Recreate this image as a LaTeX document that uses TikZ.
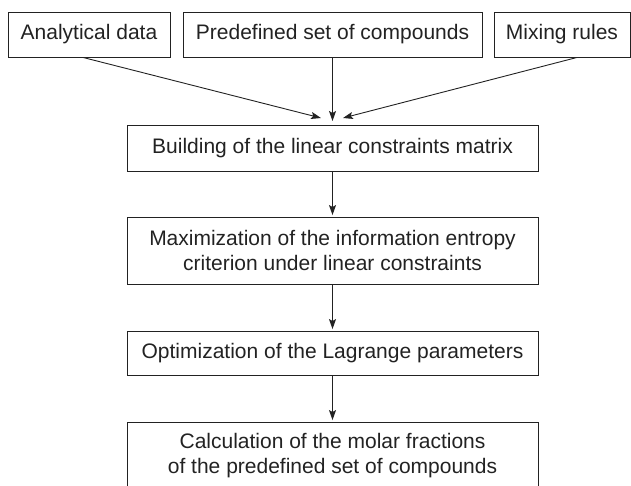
\documentclass[tikz,border=0pt]{standalone}
\usepackage{fontspec}
\setmainfont{Liberation Sans}
\usetikzlibrary{arrows.meta}
\definecolor{ink}{HTML}{222222}
\tikzset{
  box/.style={draw=ink, line width=0.9pt, text=ink, inner sep=0pt, align=center,
              font=\fontsize{21}{25}\selectfont},
  flow/.style={draw=ink, line width=0.9pt, -{Stealth[length=10pt,width=7pt,inset=2pt]}}
}
\begin{document}
\begin{tikzpicture}[x=1pt,y=-1pt]
\useasboundingbox (0,0) rectangle (631,485);
\begin{scope}
\clip (0,0) rectangle (631,485);
\node[box, minimum width=162pt, minimum height=45pt] (a1) at (89,34.5) {Analytical data};
\node[box, minimum width=299pt, minimum height=45pt] (a2) at (332.5,34.5) {Predefined set of compounds};
\node[box, minimum width=136pt, minimum height=45pt] (a3) at (562,34.5) {Mixing rules};
\node[box, minimum width=411pt, minimum height=46pt] (b) at (332.5,148) {Building of the linear constraints matrix};
\node[box, minimum width=411pt, minimum height=67pt] (c) at (332.5,250.5) {Maximization of the information entropy\\criterion under linear constraints};
\node[box, minimum width=411pt, minimum height=44pt] (d) at (332.5,353) {Optimization of the Lagrange parameters};
\node[box, minimum width=411pt, minimum height=68pt] (e) at (332.5,456) {Calculation of the molar fractions\\of the predefined set of compounds};
\end{scope}
\coordinate (tl) at (321,118);
\coordinate (tc) at (332.5,121);
\coordinate (tr) at (343,118);
\draw[flow] ([xshift=-6pt]a1.south) -- (tl);
\draw[flow] (a2.south) -- (tc);
\draw[flow] ([xshift=15pt]a3.south) -- (tr);
\draw[flow, shorten >=1.5pt] (b.south) -- (c.north);
\draw[flow, shorten >=1.5pt] (c.south) -- (d.north);
\draw[flow, shorten >=1.5pt] (d.south) -- (e.north);
\end{tikzpicture}
\end{document}
